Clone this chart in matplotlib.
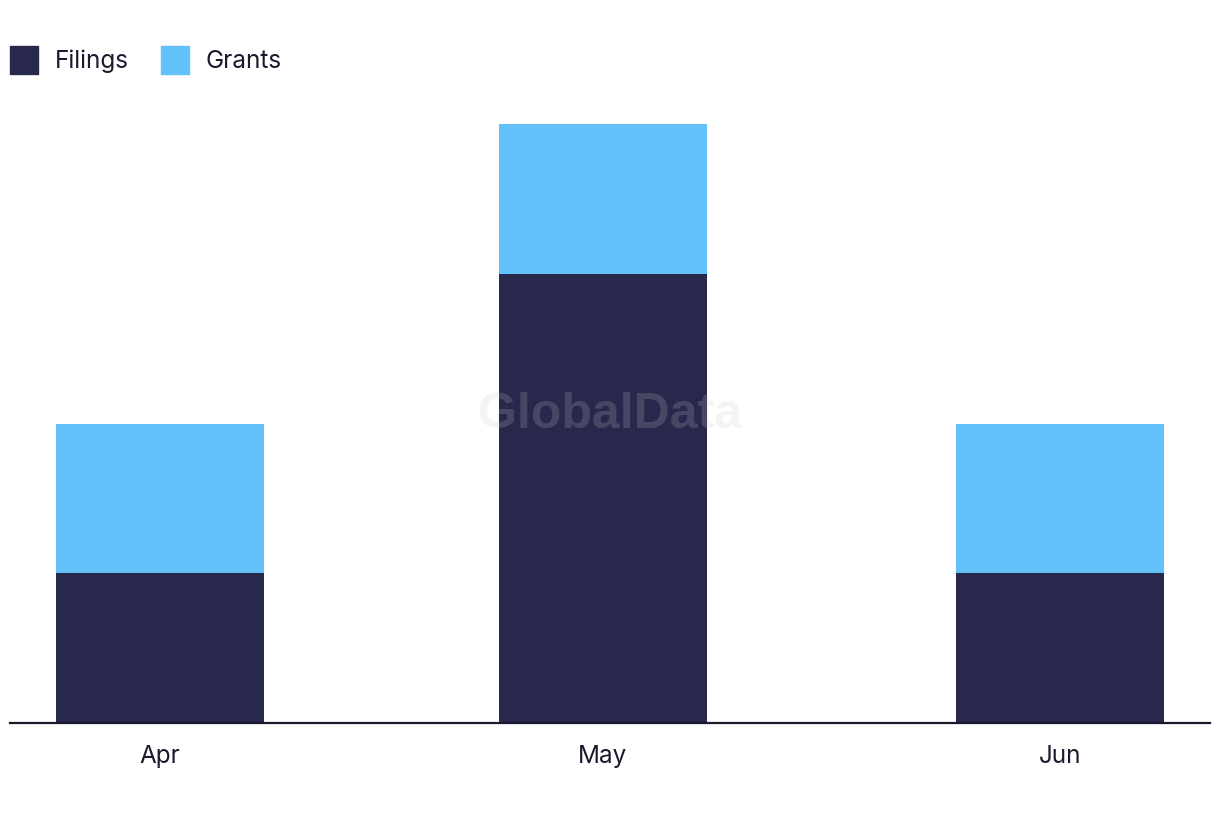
import datetime as dt

import matplotlib.dates as mdates
import matplotlib.pyplot as plt
from matplotlib.patches import Patch

months = [dt.date(2023, 4, 1), dt.date(2023, 5, 1), dt.date(2023, 6, 1)]
month_labels = ["Apr", "May", "Jun"]
filings = [1, 3, 1]
grants = [1, 1, 1]

navy = "#28284c"
sky = "#62c1f8"

plt.rcParams["font.family"] = ["Inter", "DejaVu Sans"]

fig = plt.figure(figsize=(12.2, 8.22), dpi=100)
ax = fig.add_axes([10 / 1220, 1 - 723 / 822, 1200 / 1220, 599 / 822])

x = mdates.date2num(months)
ax.bar(x, filings, width=14.1, color=navy, linewidth=0)
ax.bar(x, grants, bottom=filings, width=14.1, color=sky, linewidth=0)

# axis range: 1 day ~ 14.75 px, first bar centre at 150 px from left edge
ax.set_xlim(x[0] - 10.17, x[0] + 71.17)
ax.set_ylim(0, 4)
ax.set_xticks(x)
ax.set_xticklabels(month_labels)
ax.tick_params(axis="x", length=0, pad=16, labelsize=17.5, colors="#1a1a2e")
ax.set_yticks([])
for s in ["top", "right", "left"]:
    ax.spines[s].set_visible(False)
ax.spines["bottom"].set_color("#1a1a2e")
ax.spines["bottom"].set_linewidth(1.6)

ax.text(0.5, 0.515, "GlobalData", transform=ax.transAxes, ha="center",
        va="center", fontsize=36, fontweight="bold", color="#c8c8c8",
        alpha=0.2, family=["Liberation Sans", "DejaVu Sans"])

handles = [Patch(color=navy, label="Filings"), Patch(color=sky, label="Grants")]
fig.legend(handles=handles, loc="upper left",
           bbox_to_anchor=(10 / 1220, 1 - 46 / 822),
           ncol=2, frameon=False, fontsize=17.5, handlelength=1.15,
           handleheight=1.4, handletextpad=0.7, columnspacing=1.3,
           labelcolor="#1a1a2e", borderaxespad=0, borderpad=0)

fig.savefig("out.png", dpi=100, facecolor="white")
